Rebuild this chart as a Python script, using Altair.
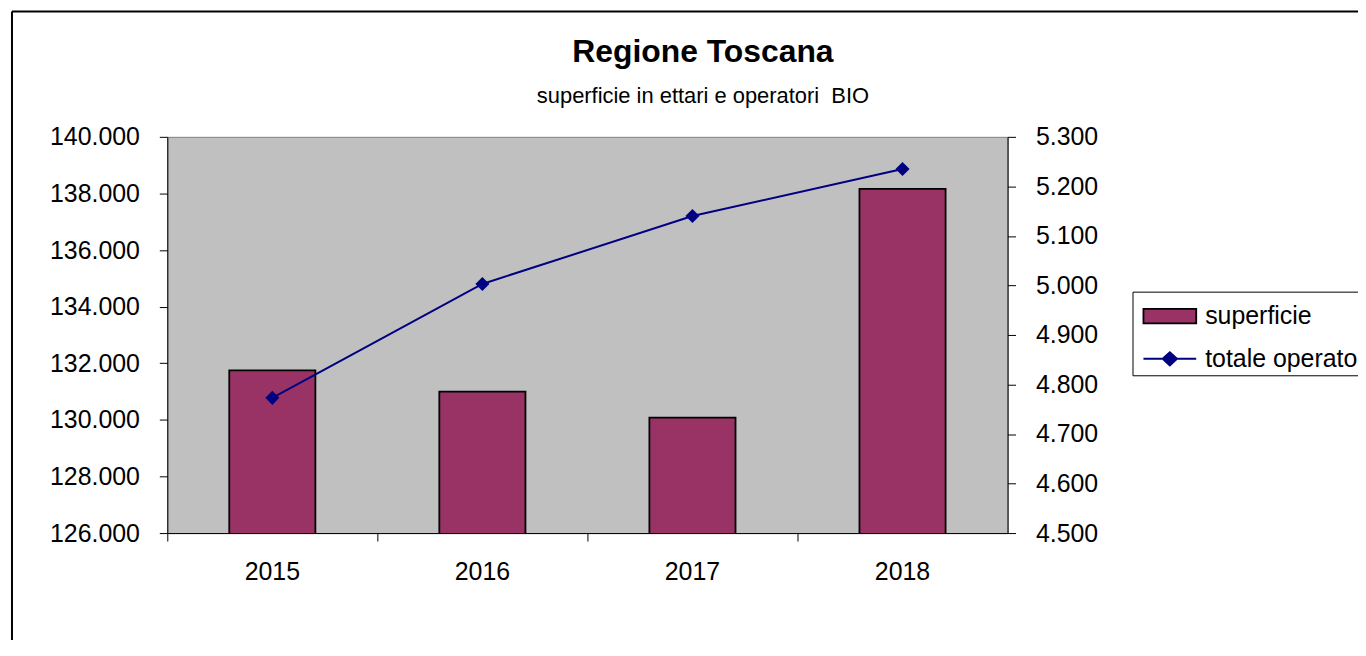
import altair as alt
import pandas as pd

years = ["2015", "2016", "2017", "2018"]
superficie = [131750, 130995, 130080, 138160]
operatori = [4773, 5003, 5140, 5235]

left_ticks = [126000, 128000, 130000, 132000, 134000, 136000, 138000, 140000]
right_ticks = [4500, 4600, 4700, 4800, 4900, 5000, 5100, 5200, 5300]

df = pd.DataFrame({
    "anno": years,
    "superficie": superficie,
    "operatori": operatori,
    "s_lab": ["superficie"] * len(years),
    "o_lab": ["totale operatori"] * len(years),
})

FONT = "Liberation Sans"
W, H = 844, 398
PAD = {"left": 160, "top": 128, "right": 352, "bottom": 106}
lbl = "replace(format(datum.value, ','), ',', '.')"

x = alt.X("anno:N", title=None,
          scale=alt.Scale(paddingInner=0, paddingOuter=0),
          axis=alt.Axis(labelAngle=0, bandPosition=0, labelFontSize=25, labelFont=FONT,
                        labelColor="black", tickColor="black", domainColor="black",
                        tickSize=8, labelPadding=19))

bars = alt.Chart(df).mark_bar(width={"band": 0.41}, stroke="black", strokeWidth=1.8,
                              clip=True).encode(
    x=x,
    y=alt.Y("superficie:Q", title=None,
            scale=alt.Scale(domain=[126000, 140000], zero=False, nice=False),
            axis=alt.Axis(values=left_ticks, labelExpr=lbl, labelFontSize=25, labelFont=FONT,
                          labelColor="black", tickColor="black", domainColor="black",
                          tickSize=8, labelPadding=20, grid=False)),
    fill=alt.Fill("s_lab:N", title=None,
                  scale=alt.Scale(domain=["superficie"], range=["#993366"]),
                  legend=alt.Legend(orient="none", legendX=979.5, legendY=152.5,
                                    symbolType="M-1,-0.275H1V0.275H-1Z", symbolSize=2809,
                                    symbolStrokeColor="black", symbolStrokeWidth=1.8,
                                    labelFontSize=25, labelFont=FONT, labelColor="black",
                                    labelOffset=8, padding=0, labelLimit=400)),
)

y_right = alt.Y("operatori:Q", title=None,
                scale=alt.Scale(domain=[4500, 5300], zero=False, nice=False),
                axis=alt.Axis(orient="right", values=right_ticks, labelExpr=lbl, labelFontSize=25,
                              labelFont=FONT, labelColor="black", tickColor="black",
                              domainColor="black", tickSize=8, labelPadding=20, grid=False))

line = alt.Chart(df).mark_line(color="#000080", strokeWidth=2).encode(x=x, y=y_right)
points = alt.Chart(df).mark_point(filled=True, shape="diamond", size=200, opacity=1).encode(
    x=x, y=y_right,
    color=alt.Color("o_lab:N", title=None,
                    scale=alt.Scale(domain=["totale operatori"], range=["#000080"]),
                    legend=alt.Legend(orient="none", legendX=979.5, legendY=195.5,
                                      symbolType="M-1,0H1M-0.27,0L0,-0.25L0.27,0L0,0.25Z",
                                      symbolSize=2809, symbolStrokeWidth=2,
                                      symbolFillColor="#000080", symbolStrokeColor="#000080",
                                      labelFontSize=25, labelFont=FONT, labelColor="black",
                                      labelOffset=8, padding=0, labelLimit=400)),
)

right_layer = alt.layer(line, points)

# decorative frame of the chart area and legend box
frame_df = pd.DataFrame({"k": [0]})
frame_left = alt.Chart(frame_df).mark_rule(color="black", strokeWidth=2).encode(
    x=alt.value(-156), y=alt.value(-126), y2=alt.value(H + 200))
frame_top = alt.Chart(frame_df).mark_rule(color="black", strokeWidth=2).encode(
    x=alt.value(-156), x2=alt.value(W + 400), y=alt.value(-126))
legend_box = alt.Chart(frame_df).mark_rect(fill="white", stroke="black", strokeWidth=1).encode(
    x=alt.value(970), x2=alt.value(1260), y=alt.value(156), y2=alt.value(240))

chart = alt.layer(frame_left, frame_top, legend_box, bars, right_layer).resolve_scale(
    y="independent", color="independent", fill="independent"
).properties(
    width=W, height=H,
    autosize=alt.AutoSizeParams(type="none"),
    padding=PAD,
    title=alt.Title("Regione Toscana", subtitle="superficie in ettari e operatori\u00a0\u00a0BIO",
                    fontSize=32, font=FONT, fontWeight="bold", color="black",
                    subtitleFontSize=22, subtitleFont=FONT, subtitleColor="black",
                    subtitlePadding=17, offset=-98, anchor="middle", dx=116),
).configure_view(fill="#C0C0C0", stroke="#808080", strokeWidth=1)

chart.save("out.html", embed_options={"renderer": "svg", "actions": False})
